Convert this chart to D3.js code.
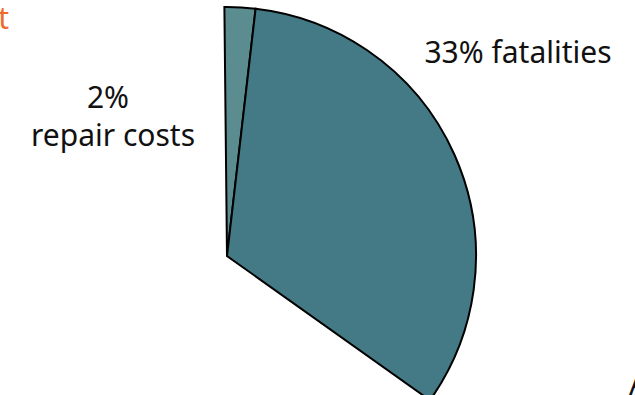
<!DOCTYPE html>
<html>
<head>
<meta charset="utf-8">
<script src="https://cdn.jsdelivr.net/npm/d3@7"></script>
<style>
  html, body { margin: 0; padding: 0; background: #fff; overflow: hidden; }
  svg { display: block; }
  text { font-family: "Noto Sans", "Open Sans", sans-serif; fill: #111; }
</style>
</head>
<body>
<svg id="chart" width="635" height="395"></svg>
<script>
// Cost shares drawn as pie wedges (percent of total)
const categories = ["repair costs", "fatalities"];
const shares = [2, 33];
const colors = ["#5b8c8f", "#437a86"];

const svg = d3.select("#chart");
const cx = 227, cy = 256, radius = 249;

// Wedges are laid out on a 100% circle, beginning just left of 12 o'clock
const startDeg = -0.6;
const total = 100;
const start = startDeg * Math.PI / 180;
const span = 2 * Math.PI * d3.sum(shares) / total;

const pie = d3.pie()
  .sort(null)
  .value(d => d)
  .startAngle(start)
  .endAngle(start + span);

const arc = d3.arc().innerRadius(0).outerRadius(radius);

const g = svg.append("g").attr("transform", `translate(${cx},${cy})`);

g.selectAll("path")
  .data(pie(shares))
  .join("path")
  .attr("d", arc)
  .attr("fill", (d, i) => colors[i])
  .attr("stroke", "#000")
  .attr("stroke-width", 2)
  .attr("stroke-linejoin", "miter");

// Labels
const fs = 30;
svg.append("text")
  .attr("x", 108).attr("y", 108)
  .attr("text-anchor", "middle")
  .attr("font-size", fs)
  .text(shares[0] + "%");

svg.append("text")
  .attr("x", 113).attr("y", 146)
  .attr("text-anchor", "middle")
  .attr("font-size", fs)
  .text(categories[0]);

svg.append("text")
  .attr("x", 518).attr("y", 63)
  .attr("text-anchor", "middle")
  .attr("font-size", fs)
  .text(shares[1] + "% " + categories[1]);

// Title fragment and neighbouring label at the edges
svg.append("text")
  .attr("x", 9).attr("y", 29)
  .attr("text-anchor", "end")
  .attr("font-size", fs)
  .style("fill", "#ee6a2a")
  .text("Cost");

svg.append("text")
  .attr("x", 629).attr("y", 395)
  .attr("font-size", fs)
  .text("A");
</script>
</body>
</html>
